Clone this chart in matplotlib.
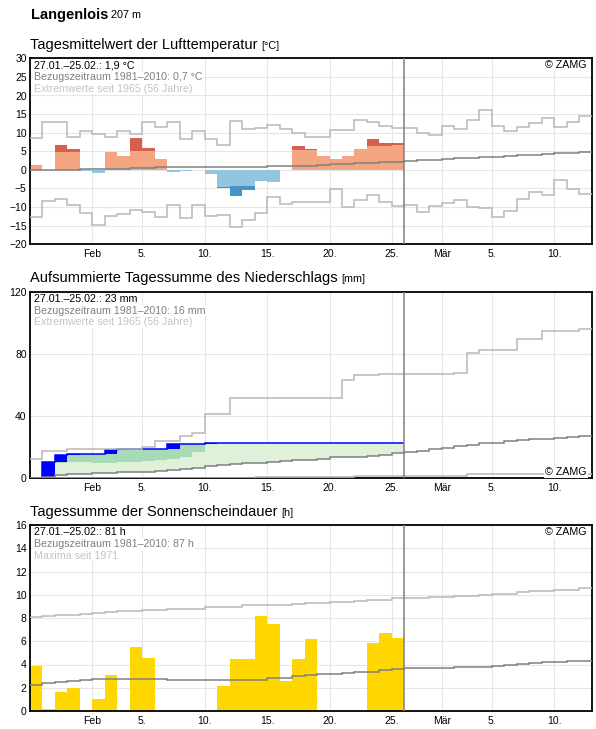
import numpy as np
import matplotlib
matplotlib.use("Agg")
import matplotlib.pyplot as plt

plt.rcParams['font.family'] = ['Liberation Sans', 'DejaVu Sans']

# ---------------- data ----------------
station = "Langenlois"
altitude = "207 m"
xtick_pos = [5, 9, 14, 19, 24, 29, 33, 37, 42]          # day index (0 = 27 Jan)
xtick_labels = ['Feb', '5.', '10.', '15.', '20.', '25.', 'Mär', '5.', '10.']

# temperature (27.01.-25.02.)
temp_value = [1.2, 0.1, 6.8, 5.75, -0.37, -0.9, 4.75, 3.85, 8.45, 6.0,
              3.05, -0.64, -0.37, 0.0, -1.0, -4.75, -7.1, -5.5, -3.06, -3.33,
              0.0, 6.3, 5.75, 3.85, 3.05, 3.85, 5.5, 8.4, 7.3, 7.3]
temp_light = [1.2, 0.1, 4.75, 4.75, -0.37, -0.9, 4.75, 3.85, 5.2, 5.2,
              3.05, -0.64, -0.37, 0.0, -1.0, -4.57, -4.23, -4.23, -3.06, -3.33,
              0.0, 5.47, 5.47, 3.85, 3.05, 3.85, 5.5, 6.4, 6.4, 6.6]
temp_normal = [0.0, 0.0, 0.05, 0.05, 0.2, 0.2, 0.33, 0.33, 0.62, 0.62,
               0.79, 0.79, 0.79, 0.79, 0.79, 0.79, 0.79, 0.79, 0.79, 1.06,
               1.06, 1.07, 1.07, 1.34, 1.6, 1.6, 1.88, 1.88, 2.15, 2.15,
               2.5, 2.55, 2.78, 3.05, 3.1, 3.32, 3.59, 3.6, 3.86, 3.9,
               4.13, 4.4, 4.45, 4.67, 4.94]
temp_max = [8.6, 12.85, 12.85, 8.9, 10.4, 9.7, 8.9, 10.4, 9.7, 12.85,
            11.6, 12.85, 8.4, 10.4, 8.2, 6.8, 13.1, 11.05, 11.2, 12.1,
            11.1, 10.0, 8.9, 8.9, 10.8, 10.8, 13.3, 13.0, 11.7, 11.3,
            11.3, 10.0, 9.3, 11.9, 11.0, 13.3, 16.2, 11.9, 10.5, 11.6,
            12.7, 14.0, 11.6, 13.0, 14.5]
temp_min = [-12.7, -8.4, -7.8, -9.4, -11.6, -14.8, -12.4, -11.9, -10.8, -11.3,
            -12.7, -9.4, -12.9, -9.4, -12.4, -12.1, -15.4, -13.5, -11.6, -7.3,
            -9.2, -8.5, -8.5, -8.5, -5.1, -9.9, -8.1, -6.8, -8.6, -9.6,
            -9.4, -11.3, -9.6, -8.9, -8.1, -10.0, -10.25, -12.7, -11.1, -7.9,
            -5.9, -6.8, -2.7, -5.1, -6.5]

# precipitation
precip_daily = [0, 10.5, 4.7, 0.4, 0, 0, 2.8, 0.2, 0, 0,
                0, 3.3, 0, 0, 0.5, 0, 0, 0, 0, 0.6,
                0, 0, 0, 0, 0, 0, 0, 0, 0, 0]
nan = np.nan
precip_band = [nan, nan, 10.1, 10.3, 10.3, 9.9, 9.9, 10.3, 10.3, 10.9,
               11.6, 12.2, 13.7, 16.9, nan, nan, nan, nan, nan, nan,
               nan, nan, nan, nan, nan, nan, nan, nan, nan, nan]
precip_normal = [0.3, 0.6, 2.1, 2.5, 2.6, 3.2, 3.3, 3.9, 4.0, 4.3,
                 4.7, 5.3, 5.8, 6.6, 7.6, 8.6, 9.3, 10.0, 10.1, 10.7,
                 11.4, 11.5, 12.0, 12.7, 13.5, 13.5, 13.6, 14.6, 14.7, 16.1,
                 17.0, 17.8, 18.7, 19.8, 20.9, 21.7, 22.4, 23.0, 23.9, 24.6,
                 25.0, 25.5, 26.1, 26.5, 27.0]
precip_max = [12.2, 17.6, 17.6, 18.7, 18.7, 18.7, 18.7, 18.7, 18.7, 19.9,
              23.8, 23.8, 27.3, 29.0, 41.3, 41.3, 51.6, 51.6, 51.6, 51.6,
              51.6, 51.6, 51.6, 51.6, 51.6, 63.4, 66.2, 66.2, 67.1, 67.1,
              67.1, 67.1, 67.1, 67.1, 67.7, 80.6, 82.3, 82.3, 82.3, 89.6,
              89.6, 95.0, 95.0, 95.0, 95.7]
precip_min = [0, 0, 0, 0, 0, 0, 0, 0, 0, 0,
              0, 0, 0, 0, 0, 0, 0, 0, 0.6, 0.6,
              0.6, 0.6, 1.0, 1.0, 1.0, 1.0, 1.6, 1.6, 1.6, 1.6,
              1.6, 1.6, 1.6, 1.6, 1.6, 2.5, 2.5, 2.5, 2.5, 2.5,
              2.5, 2.5, 2.5, 2.5, 2.5]

# sunshine
sun_value = [3.87, 0.17, 1.63, 1.98, 0, 1.03, 3.1, 0, 5.5, 4.56,
             0, 0, 0, 0, 0, 2.18, 4.47, 4.47, 8.17, 7.48,
             2.58, 4.47, 6.19, 0, 0, 0, 0, 5.85, 6.68, 6.28]
sun_normal = [2.22, 2.38, 2.47, 2.56, 2.65, 2.74, 2.74, 2.74, 2.74, 2.74,
              2.74, 2.65, 2.65, 2.65, 2.65, 2.65, 2.65, 2.65, 2.7, 2.83,
              2.83, 3.0, 3.08, 3.15, 3.15, 3.28, 3.35, 3.38, 3.53, 3.62,
              3.67, 3.67, 3.67, 3.72, 3.75, 3.78, 3.82, 3.9, 4.0, 4.05,
              4.17, 4.25, 4.25, 4.31, 4.31]
sun_max = [8.06, 8.14, 8.23, 8.23, 8.31, 8.4, 8.49, 8.6, 8.6, 8.69,
           8.69, 8.77, 8.77, 8.77, 8.92, 8.92, 8.92, 9.09, 9.09, 9.09,
           9.09, 9.17, 9.26, 9.26, 9.37, 9.37, 9.49, 9.55, 9.55, 9.7,
           9.7, 9.76, 9.84, 9.84, 9.9, 9.9, 10.0, 10.1, 10.1, 10.2,
           10.3, 10.3, 10.45, 10.45, 10.6]

titles = ["Tagesmittelwert der Lufttemperatur", "Aufsummierte Tagessumme des Niederschlags",
          "Tagessumme der Sonnenscheindauer"]
units = ["[°C]", "[mm]", "[h]"]
info_temp = ["27.01.–25.02.: 1,9 °C", "Bezugszeitraum 1981–2010: 0,7 °C", "Extremwerte seit 1965 (56 Jahre)"]
info_prec = ["27.01.–25.02.: 23 mm", "Bezugszeitraum 1981–2010: 16 mm", "Extremwerte seit 1965 (56 Jahre)"]
info_sun = ["27.01.–25.02.: 81 h", "Bezugszeitraum 1981–2010: 87 h", "Maxima seit 1971"]

# ---------------- styling ----------------
C_NORM = '#808080'
C_EXT = '#b8b8b8'
C_GRID = '#e6e6e6'
INFO_COLORS = ['black', '#808080', '#c4c4c4']

W, H = 596, 729
fig = plt.figure(figsize=(W / 100, H / 100), dpi=100)


def rect(top, bottom, left=29.9, right=591.7):
    return [left / W, 1 - bottom / H, (right - left) / W, (bottom - top) / H]


tops = [58.3, 291.7, 525.0]
bottoms = [244.3, 478.3, 711.0]
axes = [fig.add_axes(rect(t, b)) for t, b in zip(tops, bottoms)]

edges = np.arange(len(temp_max) + 1)
oedges = np.arange(len(temp_value) + 1)

for ax in axes:
    ax.set_xlim(0, 45)
    ax.set_xticks(xtick_pos)
    ax.set_xticklabels(xtick_labels)
    ax.grid(True, color=C_GRID, linewidth=0.8)
    ax.set_axisbelow(True)
    ax.tick_params(length=0, labelsize=7.5)
    ax.tick_params(axis='y', pad=2.3)
    ax.tick_params(axis='x', pad=3.4)
    for s in ax.spines.values():
        s.set_linewidth(1.3)
        s.set_color('black')
    ax.axvline(30, color=C_NORM, linewidth=1.1, zorder=4)


def info(ax, lines):
    for i, (t, c) in enumerate(zip(lines, INFO_COLORS)):
        ax.annotate(t, xy=(0, 1), xycoords='axes fraction', xytext=(4, -10 - 11.8 * i),
                    textcoords='offset pixels', va='baseline', ha='left', fontsize=7.7,
                    color=c, zorder=6, bbox=dict(fc='white', ec='none', pad=0.6))


def zamg(ax, top=True):
    if top:
        ax.annotate('© ZAMG', xy=(1, 1), xycoords='axes fraction', xytext=(-5, -10),
                    textcoords='offset pixels', va='baseline', ha='right', fontsize=7.7,
                    zorder=6, bbox=dict(fc='white', ec='none', pad=0.6))
    else:
        ax.annotate('© ZAMG', xy=(1, 0), xycoords='axes fraction', xytext=(-5, 3.5),
                    textcoords='offset pixels', va='baseline', ha='right', fontsize=7.7,
                    zorder=6, bbox=dict(fc='white', ec='none', pad=0.6))


# ---------------- temperature ----------------
ax = axes[0]
tv = np.array(temp_value)
tl = np.array(temp_light)
ax.stairs(np.maximum(tl, 0), oedges, baseline=0, fill=True, color='#f4a582', lw=0, zorder=2)
ax.stairs(np.minimum(tl, 0), oedges, baseline=0, fill=True, color='#92c5de', lw=0, zorder=2)
ax.stairs(np.where(tv > tl, tv, tl), oedges, baseline=tl, fill=True, color='#d6604d', lw=0, zorder=2)
ax.stairs(np.where(tv < tl, tv, tl), oedges, baseline=tl, fill=True, color='#4393c3', lw=0, zorder=2)
ax.stairs(temp_max, edges, baseline=None, color=C_EXT, lw=1.1, zorder=3)
ax.stairs(temp_min, edges, baseline=None, color=C_EXT, lw=1.1, zorder=3)
ax.stairs(temp_normal, edges, baseline=None, color=C_NORM, lw=1.1, zorder=3)
ax.set_ylim(-20, 30)
ax.set_yticks(np.arange(-20, 31, 5))
info(ax, info_temp)
zamg(ax, True)

# ---------------- precipitation ----------------
ax = axes[1]
pdaily = np.array(precip_daily)
cum = np.cumsum(pdaily)
prev = cum - pdaily
pn = np.array(precip_normal[:len(cum)])
band = np.array(precip_band)
light_top = np.where(np.isnan(band), cum, np.minimum(cum, np.nan_to_num(band, nan=0)))
light_top = np.where(cum > pn, light_top, pn)
ax.stairs(light_top, oedges, baseline=pn, fill=True, color='#dff2d9', lw=0, zorder=2)
mid_base = np.where(np.isnan(band), cum, np.nan_to_num(band, nan=0))
mid_top = np.where(cum > mid_base, cum, mid_base)
ax.stairs(mid_top, oedges, baseline=mid_base, fill=True, color='#a8dab6', lw=0, zorder=2)
ax.stairs(cum, oedges, baseline=prev, fill=True, color='#0000ff', lw=0, zorder=2.5)
ax.stairs(cum, oedges, baseline=None, color='#0000ff', lw=1.1, zorder=2.6)
ax.stairs(precip_max, edges, baseline=None, color=C_EXT, lw=1.1, zorder=3)
ax.stairs(precip_min, edges, baseline=None, color=C_EXT, lw=1.1, zorder=3)
ax.stairs(precip_normal, edges, baseline=None, color=C_NORM, lw=1.1, zorder=3)
ax.set_ylim(0, 120)
ax.set_yticks([0, 40, 80, 120])
info(ax, info_prec)
zamg(ax, False)

# ---------------- sunshine ----------------
ax = axes[2]
ax.stairs(sun_value, oedges, baseline=0, fill=True, color='#ffd700', lw=0, zorder=2)
ax.stairs(sun_max, edges, baseline=None, color=C_EXT, lw=1.1, zorder=3)
ax.stairs(sun_normal, edges, baseline=None, color=C_NORM, lw=1.1, zorder=3)
ax.set_ylim(0, 16)
ax.set_yticks(np.arange(0, 17, 2))
info(ax, info_sun)
zamg(ax, True)

# ---------------- titles ----------------
renderer = fig.canvas.get_renderer()


def two_part(x_px, y_px, big, small, big_kw, small_size):
    t = fig.text(x_px / W, 1 - y_px / H, big, va='baseline', ha='left', **big_kw)
    bb = t.get_window_extent(renderer)
    fig.text((bb.x1 + 3) / W, 1 - y_px / H, small, va='baseline', ha='left', fontsize=small_size)


two_part(30.5, 18.5, station, altitude, dict(fontsize=10.5, fontweight='bold'), 7.8)
for top, title, unit in zip(tops, titles, units):
    two_part(30.5, top - 9.3, title, unit, dict(fontsize=10.5), 7.8)

fig.savefig("out.png", dpi=100)
